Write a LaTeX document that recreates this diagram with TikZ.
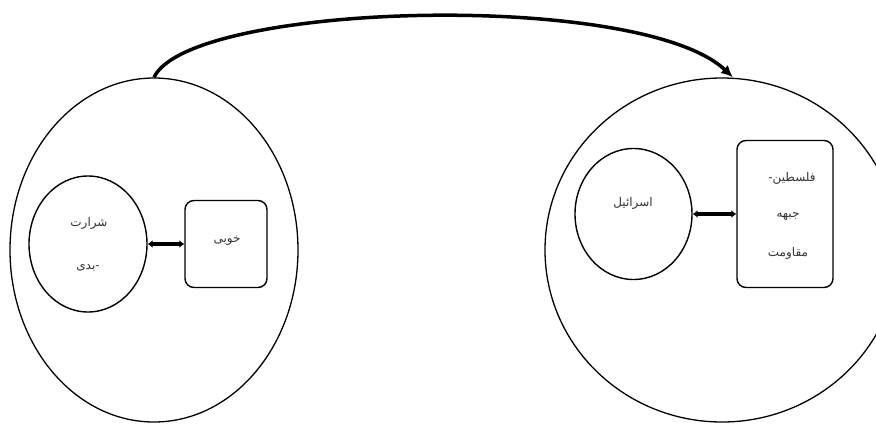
\documentclass[tikz,border=0pt]{standalone}
\usepackage{fontspec}
\usetikzlibrary{shapes.geometric,arrows.meta}
\newfontfamily\arabicfont[Script=Arabic]{DejaVu Sans}
\TeXXeTstate=1
\begin{document}
\begin{tikzpicture}[x=1pt,y=-1pt,
  outer/.style={draw,ellipse,line width=1.3pt,inner sep=0pt},
  innerc/.style={draw,ellipse,line width=1.4pt,inner sep=0pt},
  boxnode/.style={draw,rectangle,rounded corners=9pt,line width=1.4pt,inner sep=0pt},
  txt/.style={font=\arabicfont\fontsize{12}{14}\selectfont,inner sep=0pt,text=black!80},
  link/.style={line width=3.5pt,{Latex[length=5pt,width=8pt]}-{Latex[length=5pt,width=8pt]}},
  bigarrow/.style={line width=3.5pt,-{Latex[length=12pt,width=11pt]}}]
\useasboundingbox (0,0) rectangle (876,424);
\clip (0,0) rectangle (876,424);
% outer ellipses
\node[outer,minimum width=288pt,minimum height=344pt] (L) at (154,250) {};
\node[outer,minimum width=354pt,minimum height=344pt] (R) at (722,250) {};
% left inner
\node[innerc,minimum width=118pt,minimum height=136pt] (lc) at (88,244) {};
\node[boxnode,minimum width=82pt,minimum height=87pt] (lb) at (226,244) {};
\node[txt] (lt1) at (89,223) {\beginR شرارت\endR};
\node[txt] (lt2) at (88,268) {\beginR بدی\endR-};
\node[txt] (lbt) at (227,241) {\beginR خوبی\endR};
% right inner
\node[innerc,minimum width=117pt,minimum height=131pt] (rc) at (633.5,214) {};
\node[boxnode,minimum width=96pt,minimum height=147pt] (rb) at (785,214) {};
\node[txt] (rct) at (633,203) {\beginR اسرائیل\endR};
\node[txt] (rt1) at (792,178) {-\beginR فلسطین\endR};
\node[txt] (rt2) at (788,217) {\beginR جبهه\endR};
\node[txt] (rt3) at (788,253) {\beginR مقاومت\endR};
% connectors
\draw[link] (lc) -- (lb);
\draw[link] (rc) -- (rb);
\draw[bigarrow] (L.north) .. controls (190,2) and (640,-10) .. ([xshift=11pt]R.north);
\end{tikzpicture}
\end{document}
